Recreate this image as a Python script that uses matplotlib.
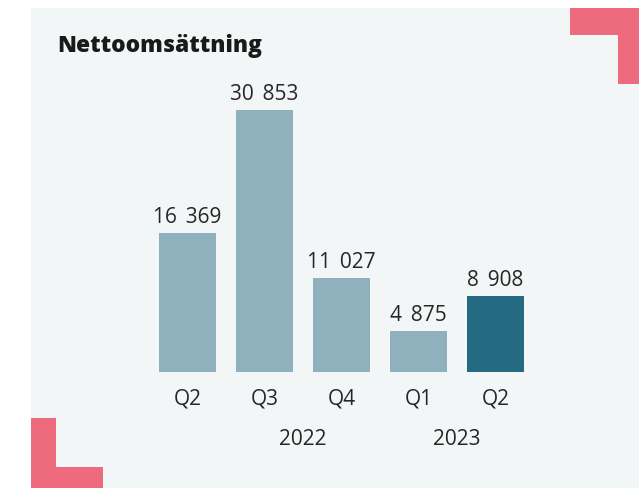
import matplotlib.pyplot as plt
from matplotlib.patches import Rectangle

quarters = ['Q2', 'Q3', 'Q4', 'Q1', 'Q2']
values = [16369, 30853, 11027, 4875, 8908]
labels = ['16 369', '30 853', '11 027', '4 875', '8 908']
years = ['2022', '2023']
year_pos = [1.5, 3.5]

light = '#8fb1bd'
dark = '#246a82'
pink = '#ee6b7d'
bg = '#f3f6f7'
txt = '#262626'

plt.rcParams['font.family'] = ['Open Sans', 'DejaVu Sans']

W, H = 639, 488
fig = plt.figure(figsize=(W / 100, H / 100), dpi=100)
fig.patch.set_facecolor('white')

def px(x, y, w, h, c):
    # rectangle in pixel coords measured from top-left
    fig.add_artist(Rectangle((x / W, 1 - (y + h) / H), w / W, h / H,
                             transform=fig.transFigure, facecolor=c,
                             edgecolor='none', zorder=0))

px(31, 8, W - 31, H - 8, bg)
# corner decorations
px(570, 8, 69, 27, pink)
px(618, 8, 21, 76, pink)
px(31, 418, 25, 70, pink)
px(31, 467, 72, 21, pink)

fig.text(57 / W, 1 - 51.5 / H, 'Nettoomsättning', fontsize=16.4,
         fontweight=800, color='#1a1a1a', va='baseline', ha='left',
         family=['Open Sans', 'DejaVu Sans'])

base = 372
ax = fig.add_axes([110.5 / W, (H - base) / H, 462 / W, 300 / H])
ax.set_xlim(-1, 5)
ax.set_ylim(0, 30853 * 300 / 262)
ax.axis('off')

colors = [light] * 4 + [dark]
x = list(range(len(values)))
bars = ax.bar(x, values, width=57 / 77, color=colors)
for xi, v, lab in zip(x, values, labels):
    ax.annotate(lab.replace(' ', '\u2009 '), (xi, v), xytext=(0, 7.2),
                textcoords='offset points', ha='center', va='baseline',
                fontsize=15, color=txt)

for xi, q in zip(x, quarters):
    fig.text((110.5 + 77 * (xi + 1)) / W, 1 - 405 / H, q, ha='center',
             va='baseline', fontsize=15, color=txt)
for xp, yr in zip(year_pos, years):
    fig.text((110.5 + 77 * (xp + 1)) / W, 1 - 445 / H, yr, ha='center',
             va='baseline', fontsize=15, color=txt)

fig.savefig('out.png', dpi=100)
